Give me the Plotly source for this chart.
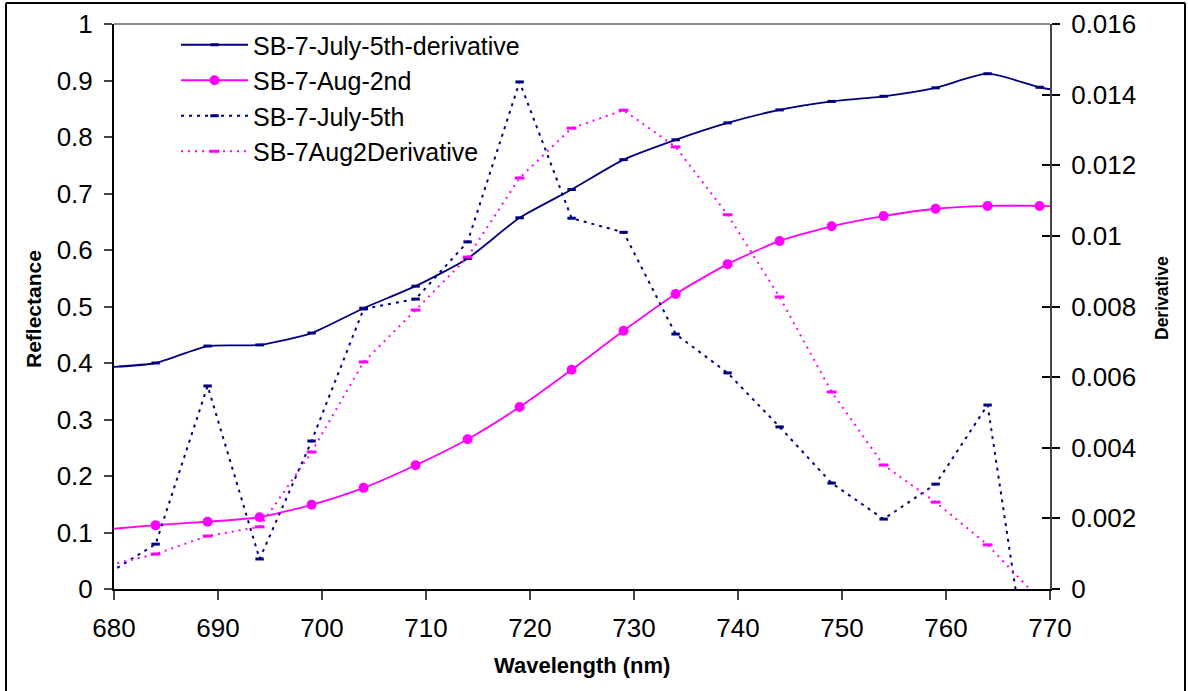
import plotly.graph_objects as go

# ---- data ----
wavelength = [679, 684, 689, 694, 699, 704, 709, 714, 719, 724, 729, 734, 739, 744, 749, 754, 759, 764, 769, 774]

july_solid = [0.392, 0.400, 0.430, 0.432, 0.453, 0.497, 0.536, 0.585, 0.657, 0.707, 0.760, 0.795,
              0.825, 0.848, 0.863, 0.872, 0.887, 0.912, 0.888, 0.872]
aug_solid = [0.105, 0.113, 0.119, 0.127, 0.149, 0.179, 0.219, 0.265, 0.322, 0.388, 0.457, 0.522,
             0.575, 0.616, 0.642, 0.660, 0.673, 0.678, 0.678, 0.676]
july_dashed = [0.00036, 0.00127, 0.00575, 0.00085, 0.00419, 0.00793, 0.00821, 0.00983, 0.01436, 0.0105,
               0.0101, 0.00722, 0.00612, 0.00459, 0.0030, 0.00198, 0.00297, 0.00521, -0.0045, -0.0060]
aug_dashed = [0.00064, 0.00099, 0.0015, 0.00176, 0.00388, 0.00643, 0.0079, 0.0094, 0.01164, 0.01305,
              0.01356, 0.01252, 0.0106, 0.00827, 0.00558, 0.00351, 0.00246, 0.00125, -0.0003, -0.0010]

names = ["SB-7-July-5th-derivative", "SB-7-Aug-2nd", "SB-7-July-5th", "SB-7Aug2Derivative"]
x_ticks = [680, 690, 700, 710, 720, 730, 740, 750, 760, 770]

NAVY = "#000080"
MAG = "#FF00FF"
FONT = "Arial, Liberation Sans, sans-serif"

fig = go.Figure()
fig.add_trace(go.Scatter(x=wavelength, y=july_solid, name=names[0], mode="lines+markers",
                         line=dict(color=NAVY, width=1.8, shape="spline", smoothing=0.6),
                         marker=dict(symbol="line-ew", size=6, line=dict(color=NAVY, width=3)),
                         yaxis="y"))
fig.add_trace(go.Scatter(x=wavelength, y=aug_solid, name=names[1], mode="lines+markers",
                         line=dict(color=MAG, width=1.8, shape="spline", smoothing=0.6),
                         marker=dict(symbol="circle", size=10, color=MAG),
                         yaxis="y"))
fig.add_trace(go.Scatter(x=wavelength, y=july_dashed, name=names[2], mode="lines+markers",
                         line=dict(color=NAVY, width=2, dash="3px,5px"),
                         marker=dict(symbol="line-ew", size=6, line=dict(color=NAVY, width=3)),
                         yaxis="y2"))
fig.add_trace(go.Scatter(x=wavelength, y=aug_dashed, name=names[3], mode="lines+markers",
                         line=dict(color=MAG, width=2, dash="2px,5px"),
                         marker=dict(symbol="line-ew", size=7, line=dict(color=MAG, width=3)),
                         yaxis="y2"))
# dummy trace so the inside-tick companion axis is drawn
fig.add_trace(go.Scatter(x=[None], y=[None], yaxis="y3", showlegend=False, hoverinfo="skip"))

W, H = 1188, 691
L, R, T, B = 114, 1050, 24, 589
pw, ph = R - L, B - T


def px(xp):
    return (xp - L) / pw


def py(yp):
    return (B - yp) / ph


fig.update_layout(
    width=W, height=H,
    margin=dict(l=L, r=W - R, t=T, b=H - B, autoexpand=False),
    paper_bgcolor="white", plot_bgcolor="white",
    font=dict(family=FONT, color="black", size=26),
    showlegend=True,
    legend=dict(x=px(176), y=py(22), xanchor="left", yanchor="top",
                bgcolor="rgba(0,0,0,0)", borderwidth=0,
                font=dict(family=FONT, size=25, color="black"),
                itemwidth=67, tracegroupgap=0),
    xaxis=dict(range=[680, 770], tickvals=x_ticks, showgrid=False, zeroline=False,
               showline=True, linecolor="black", linewidth=2, automargin=False,
               ticks="outside", ticklen=9, tickwidth=1.5, tickcolor="#444",
               ticklabelstandoff=6, tickfont=dict(size=26)),
    yaxis=dict(range=[0, 1], dtick=0.1, showgrid=False, zeroline=False,
               showline=True, linecolor="black", linewidth=2, automargin=False,
               ticks="outside", ticklen=8, tickwidth=1.5, tickcolor="#444",
               ticklabelstandoff=6, tickfont=dict(size=26)),
    yaxis2=dict(range=[0, 0.016], dtick=0.002, tickformat="~g", overlaying="y", side="right",
                showgrid=False, zeroline=False, showline=True, linecolor="#444", linewidth=2,
                automargin=False,
                ticks="outside", ticklen=8, tickwidth=1.5, tickcolor="black",
                ticklabelstandoff=6, tickfont=dict(size=26)),
    yaxis3=dict(range=[0, 0.016], dtick=0.002, overlaying="y", side="right", anchor="x",
                showgrid=False, zeroline=False, showline=False, showticklabels=False,
                automargin=False,
                ticks="inside", ticklen=8, tickwidth=1.5, tickcolor="black"),
    annotations=[
        dict(text="<b>Reflectance</b>", x=px(33), y=py(309), xref="paper", yref="paper",
             xanchor="center", yanchor="middle",
             textangle=-90, showarrow=False, font=dict(size=21, family=FONT)),
        dict(text="<b>Derivative</b>", x=px(1162), y=py(298), xref="paper", yref="paper",
             xanchor="center", yanchor="middle",
             textangle=-90, showarrow=False, font=dict(size=17.5, family=FONT)),
        dict(text="<b>Wavelength (nm)</b>", x=px(582), y=py(665), xref="paper", yref="paper",
             xanchor="center", yanchor="middle",
             showarrow=False, font=dict(size=22, family=FONT)),
    ],
    shapes=[
        # grey top border of the plot area
        dict(type="line", xref="paper", yref="paper", x0=0, x1=1, y0=1, y1=1,
             line=dict(color="#8c8c8c", width=2)),
        # outer frame of the chart object
        dict(type="line", xref="paper", yref="paper", x0=px(6), x1=px(1185), y0=py(3), y1=py(3),
             line=dict(color="black", width=2)),
        dict(type="line", xref="paper", yref="paper", x0=px(6), x1=px(6), y0=py(3), y1=py(700),
             line=dict(color="black", width=2)),
        dict(type="line", xref="paper", yref="paper", x0=px(1185), x1=px(1185), y0=py(3), y1=py(700),
             line=dict(color="black", width=2)),
    ],
)

fig.write_html("out.html", config={"displayModeBar": False},
               post_script="document.body.style.margin='0';document.body.style.overflow='hidden';")
